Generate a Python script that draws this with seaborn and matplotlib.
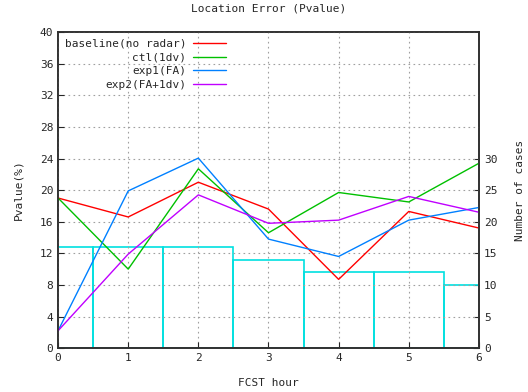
import numpy as np
import pandas as pd
import seaborn as sns
from matplotlib import pyplot as plt

hours = [0, 1, 2, 3, 4, 5, 6]
baseline = [19.0, 16.6, 21.0, 17.6, 8.7, 17.3, 15.2]
ctl = [19.0, 10.0, 22.7, 14.6, 19.7, 18.5, 23.4]
exp1 = [2.2, 19.9, 24.05, 13.8, 11.6, 16.2, 17.8]
exp2 = [2.2, 11.9, 19.4, 15.8, 16.2, 19.2, 17.2]
cases = [16, 16, 16, 14, 12, 12, 10]

names = ["baseline(no radar)", "ctl(1dv)", "exp1(FA)", "exp2(FA+1dv)"]
colors = ["#ff0000", "#00c000", "#0080ff", "#c000ff"]

sns.set_style("ticks")
plt.rcParams['font.family'] = ['DejaVu Sans Mono']
plt.rcParams['font.size'] = 8

fig = plt.figure(figsize=(5.28, 3.92), dpi=100)
ax = fig.add_axes([0.11, 0.112, 0.797, 0.806])
ax2 = ax.twinx()

# number of cases as open bars on the right axis
sns.barplot(x=hours, y=cases, ax=ax2, fill=False, width=1.0,
            edgecolor="#00e0e0", linewidth=1.2, native_scale=True)
ax2.set_ylim(0, 50)
ax2.set_yticks([0, 5, 10, 15, 20, 25, 30])
ax2.set_ylabel("Number of cases", labelpad=13)

df = pd.DataFrame({"hour": hours * 4,
                   "pval": baseline + ctl + exp1 + exp2,
                   "exp": sum([[n] * len(hours) for n in names], [])})
sns.lineplot(data=df, x="hour", y="pval", hue="exp", palette=colors,
             linewidth=1, ax=ax)

ax.set_zorder(ax2.get_zorder() + 1)
ax.patch.set_visible(False)

ax.set_xlim(0, 6)
ax.set_ylim(0, 40)
ax.set_yticks(np.arange(0, 41, 4))
ax.set_xticks(hours)
ax.grid(True, linestyle=(0, (1.5, 3)), color="#a0a0a0", linewidth=0.8)
ax.set_xlabel("FCST hour", labelpad=11)
ax.set_ylabel("Pvalue(%)", labelpad=12)
ax.set_title("Location Error (Pvalue)", fontsize=8, pad=15)

for a in (ax, ax2):
    a.tick_params(direction="in", length=4, labelsize=8)
    for s in a.spines.values():
        s.set_linewidth(1.2)
        s.set_color("#303030")
ax2.set_xlim(0, 6)

leg = ax.legend(loc="upper left", frameon=False, markerfirst=False,
                handlelength=3.0, handletextpad=0.6, labelspacing=0.33,
                borderaxespad=0.2, bbox_to_anchor=(0.0, 1.0))

fig.savefig("out.png", dpi=100)
